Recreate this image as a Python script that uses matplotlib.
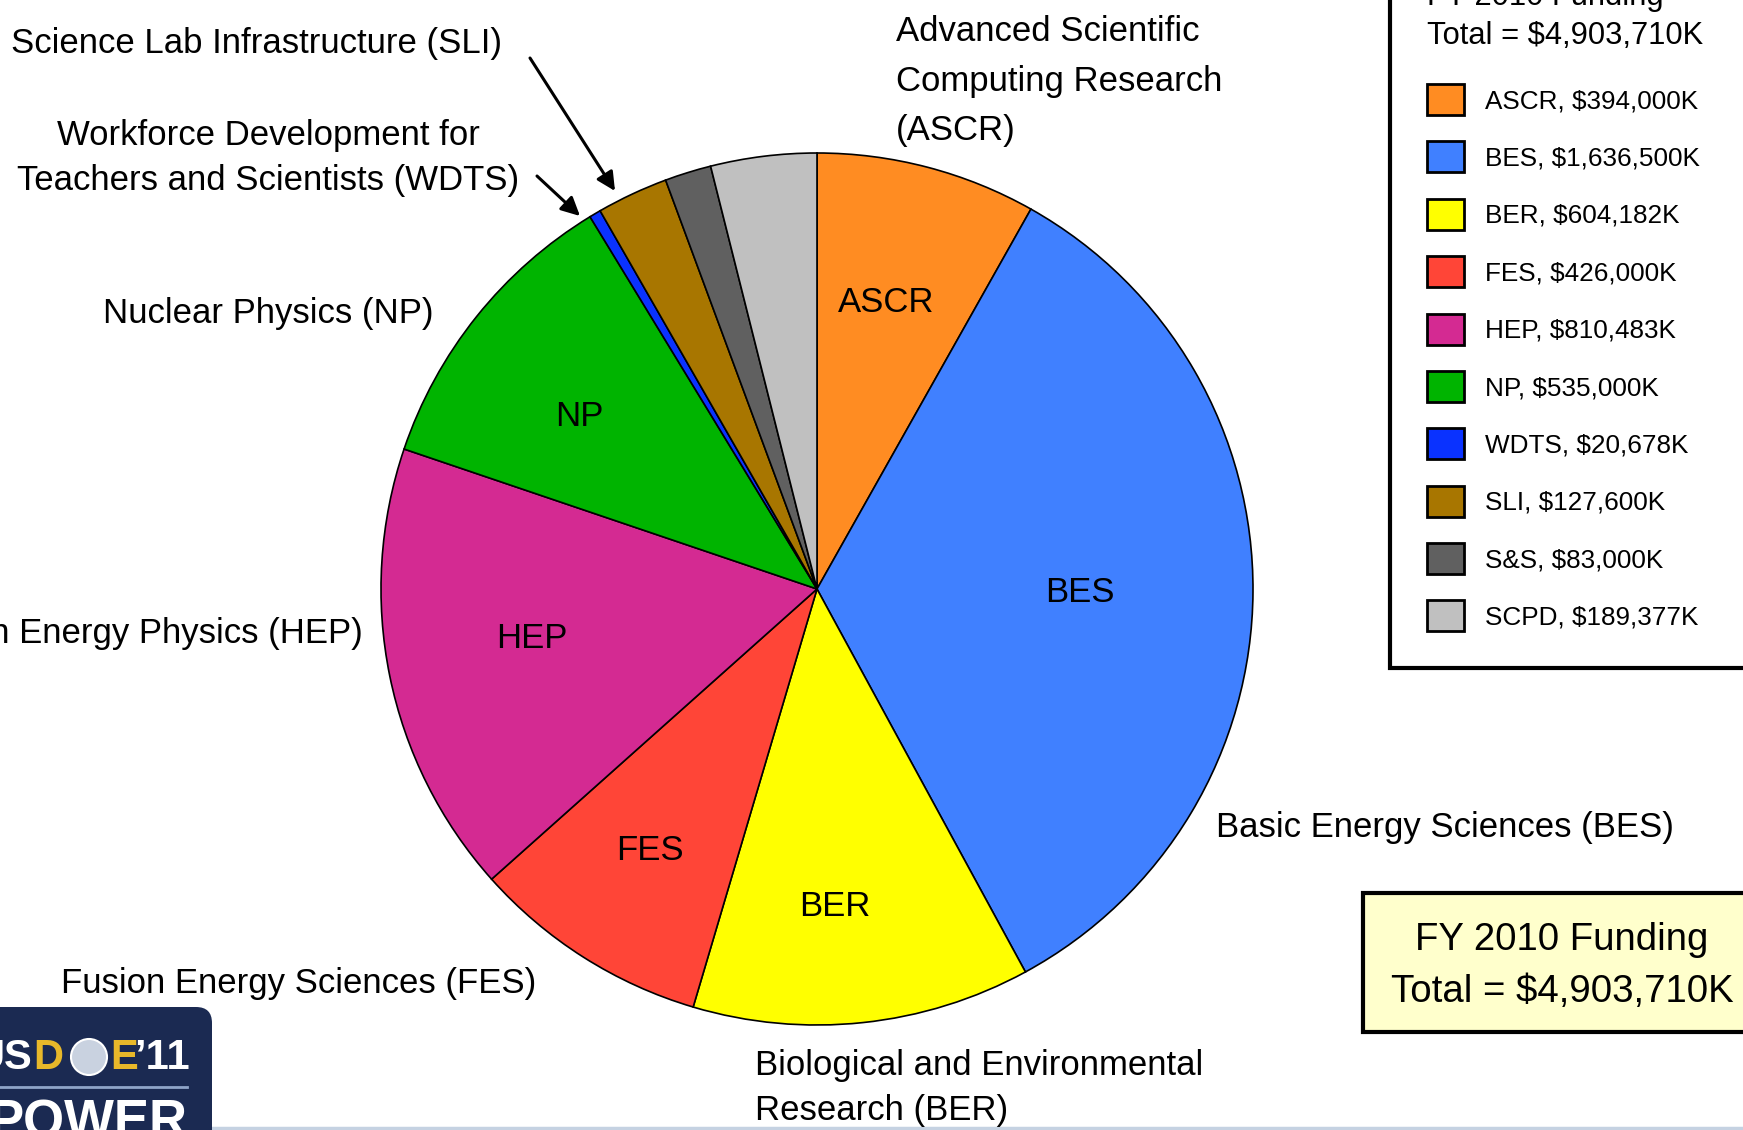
import matplotlib
matplotlib.use("Agg")
import matplotlib.pyplot as plt
from matplotlib.patches import FancyBboxPatch, Rectangle, Circle

# ---------------- data ----------------
codes = ["ASCR", "BES", "BER", "FES", "HEP", "NP", "WDTS", "SLI", "S&S", "SCPD"]
funding_k = [394000, 1636500, 604182, 426000, 810483, 535000, 20678, 127600, 83000, 189377]
legend_labels = ["ASCR, $394,000K", "BES, $1,636,500K", "BER, $604,182K", "FES, $426,000K",
                 "HEP, $810,483K", "NP, $535,000K", "WDTS, $20,678K", "SLI, $127,600K",
                 "S&S, $83,000K", "SCPD, $189,377K"]
inner_labels = ["ASCR", "BES", "BER", "FES", "HEP", "NP"]
colors = ["#FF8C22", "#4080FF", "#FFFF00", "#FF4537", "#D42A92", "#00B400",
          "#0A32FF", "#A87600", "#606060", "#C0C0C0"]
total_text = "Total = $4,903,710K"
title_text = "FY 2010 Funding"

FONT = ["Liberation Sans", "DejaVu Sans"]
plt.rcParams["font.family"] = FONT

W, H = 1743, 1130
fig = plt.figure(figsize=(W / 100, H / 100), dpi=100)
ax = fig.add_axes([0, 0, 1, 1])

# pie (y axis inverted below -> startangle -90 / counterclock True = top, clockwise on screen)
cx, cy, R = 817, 589, 436
wedges, _ = ax.pie(funding_k, colors=colors, startangle=-90, counterclock=True,
                   center=(cx, cy), radius=R,
                   wedgeprops=dict(edgecolor="black", linewidth=1.2))
ax.set_xlim(0, W)
ax.set_ylim(H, 0)
ax.set_aspect("auto")
ax.axis("off")

fs = 25
# inner labels
inner_pos = [(886, 303), (1080, 593), (835, 906), (650, 850), (532, 639), (579, 416)]
for lab, (x, y) in zip(inner_labels, inner_pos):
    ax.text(x, y, lab, ha="center", va="center", fontsize=fs, color="black")

# outer labels
ax.text(896, 81, "Advanced Scientific\nComputing Research\n(ASCR)", ha="left", va="center",
        fontsize=fs, linespacing=1.65)
ax.text(11, 43, "Science Lab Infrastructure (SLI)", ha="left", va="center", fontsize=fs)
ax.text(268, 158, "Workforce Development for\nTeachers and Scientists (WDTS)", ha="center",
        va="center", fontsize=fs, linespacing=1.48)
ax.text(434, 314, "Nuclear Physics (NP)", ha="right", va="center", fontsize=fs)
ax.text(363, 634, "High Energy Physics (HEP)", ha="right", va="center", fontsize=fs)
ax.text(61, 984, "Fusion Energy Sciences (FES)", ha="left", va="center", fontsize=fs)
ax.text(755, 1088, "Biological and Environmental\nResearch (BER)", ha="left", va="center",
        fontsize=fs, linespacing=1.46)
ax.text(1216, 828, "Basic Energy Sciences (BES)", ha="left", va="center", fontsize=fs)

# arrows
arr = dict(arrowstyle="-|>", mutation_scale=28, lw=2.2, color="black", shrinkA=0, shrinkB=0)
ax.annotate("", xy=(615, 191), xytext=(530, 58), arrowprops=arr)
ax.annotate("", xy=(580, 216), xytext=(537, 176), arrowprops=arr)

# legend (frame extends past the right and top edges, as in the slide)
lfs = 18.8
leg = fig.legend(wedges, legend_labels, loc="lower left",
                 bbox_to_anchor=(1390 / W, (H - 668) / H, 420 / W, 0.5),
                 mode="expand", borderaxespad=0, fontsize=lfs,
                 title=title_text + "\n" + total_text, title_fontsize=22.2,
                 alignment="left",
                 handlelength=1.45, handleheight=1.45, handletextpad=0.8,
                 borderpad=1.4, labelspacing=1.01, fancybox=False, framealpha=1)
leg.get_frame().set_edgecolor("black")
leg.get_frame().set_linewidth(3)
leg.get_title().set_linespacing(1.38)
leg._legend_box.sep = leg._legend_box.sep + 5
for p in leg.get_patches():
    p.set_linewidth(2)

# FY 2010 box
ax.add_patch(Rectangle((1363, 893), 420, 139, facecolor="#FFFFCC", edgecolor="black",
                       linewidth=3, zorder=3))
ax.text(1562, 966, title_text + "\n" + total_text, ha="center", va="center",
        fontsize=27.6, linespacing=1.58, zorder=4)

# logo (bottom left)
ax.add_patch(FancyBboxPatch((-40, 1007), 252, 160, boxstyle="round,pad=0,rounding_size=16",
                            facecolor="#1B2A52", edgecolor="none", zorder=5))
lf = dict(fontsize=30, fontweight="bold", va="center", zorder=6)
ax.text(32, 1058, "US", ha="right", color="white", **lf)
ax.text(33, 1058, "D", ha="left", color="#E8B82A", **lf)
ax.add_patch(Circle((89, 1057), 18, facecolor="#C9D2E0", edgecolor="white", lw=1.5, zorder=6))
ax.text(110, 1058, "E", ha="left", color="#E8B82A", **lf)
ax.text(134, 1058, "\u201911", ha="left", color="white", **lf)
ax.plot([0, 187], [1087, 1087], color="#8FA4C8", lw=2, zorder=6)
ax.text(188, 1124, "POWER", ha="right", va="center", color="white", fontsize=38,
        fontweight="bold", zorder=6)

ax.plot([212, W], [1128, 1128], color="#C5D2E2", lw=2.5, zorder=1)

fig.savefig("out.png", dpi=100)
